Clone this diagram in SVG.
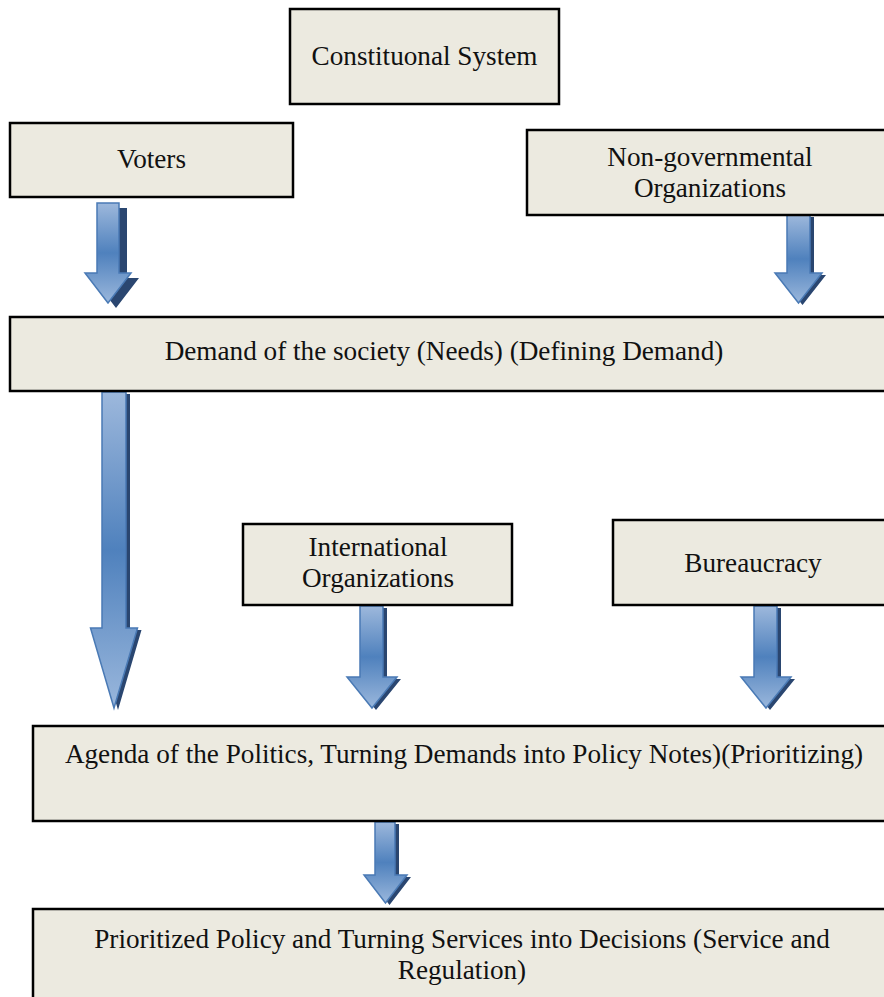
<svg xmlns="http://www.w3.org/2000/svg" width="884" height="997" viewBox="0 0 884 997">
<defs>
<style>
.box{fill:#ECEAE0;stroke:#000;stroke-width:2.5}
.t{font-family:"Liberation Serif","Times New Roman",serif;font-size:27.2px;fill:#111;text-anchor:middle}
.arr{fill:url(#g);stroke:#4A7AB5;stroke-width:1.5;stroke-linejoin:miter}
.sh{fill:#2A4670}
</style>
<linearGradient id="g" x1="0" y1="0" x2="0" y2="1">
<stop offset="0" stop-color="#9DB8DC"/>
<stop offset="0.5" stop-color="#4F81BD"/>
<stop offset="1" stop-color="#9AB7DC"/>
</linearGradient>
</defs>
<rect width="884" height="997" fill="#fff"/>
<g id="connectors">
<g id="a-voters">
<polygon class="sh" points="101,206 123,206 123,276 135,276 112,306 89,276 101,276" transform="translate(4,2)"/>
<polygon class="arr" points="97,203 119,203 119,273 131,273 108,303 85,273 97,273"/>
</g>
<g id="a-ngo">
<polygon class="sh" points="787,215 810,215 810,273 822,273 798.5,303 775,273 787,273" transform="translate(4,2)"/>
<polygon class="arr" points="787,215 810,215 810,273 822,273 798.5,303 775,273 787,273"/>
</g>
<g id="a-demand">
<polygon class="sh" points="102,392 126,392 126,628 137.5,628 114,708 90.5,628 102,628" transform="translate(4,2)"/>
<polygon class="arr" points="102,392 126,392 126,628 137.5,628 114,708 90.5,628 102,628"/>
</g>
<g id="a-intl">
<polygon class="sh" points="360,606 383,606 383,677 397,677 372,708 347,677 360,677" transform="translate(4,2)"/>
<polygon class="arr" points="360,606 383,606 383,677 397,677 372,708 347,677 360,677"/>
</g>
<g id="a-bureau">
<polygon class="sh" points="754,606 777,606 777,677 791,677 766,708 741,677 754,677" transform="translate(4,2)"/>
<polygon class="arr" points="754,606 777,606 777,677 791,677 766,708 741,677 754,677"/>
</g>
<g id="a-agenda">
<polygon class="sh" points="375,822 395,822 395,875 407,875 385.5,903 364,875 375,875" transform="translate(4,2)"/>
<polygon class="arr" points="375,822 395,822 395,875 407,875 385.5,903 364,875 375,875"/>
</g>
</g>
<g id="constitutional">
<rect class="box" x="290" y="9" width="269" height="95"/>
<text class="t" x="424.5" y="65">Constituonal System</text>
</g>
<g id="voters">
<rect class="box" x="10" y="123" width="283" height="74"/>
<text class="t" x="151.5" y="168">Voters</text>
</g>
<g id="ngo">
<rect class="box" x="527" y="130" width="370" height="85"/>
<text class="t" x="710" y="166">Non-governmental</text>
<text class="t" x="710" y="197">Organizations</text>
</g>
<g id="demand">
<rect class="box" x="10" y="317" width="890" height="74"/>
<text class="t" x="444" y="360">Demand of the society (Needs) (Defining Demand)</text>
</g>
<g id="international">
<rect class="box" x="243" y="524" width="269" height="81"/>
<text class="t" x="378" y="556">International</text>
<text class="t" x="378" y="587">Organizations</text>
</g>
<g id="bureaucracy">
<rect class="box" x="613" y="520" width="290" height="85"/>
<text class="t" x="753" y="572">Bureaucracy</text>
</g>
<g id="agenda">
<rect class="box" x="33" y="726" width="870" height="95"/>
<text class="t" x="464" y="763">Agenda of the Politics, Turning Demands into Policy Notes)(Prioritizing)</text>
</g>
<g id="prioritized">
<rect class="box" x="33" y="909" width="870" height="100"/>
<text class="t" x="462" y="948">Prioritized Policy and Turning Services into Decisions (Service and</text>
<text class="t" x="462" y="979">Regulation)</text>
</g>
</svg>
